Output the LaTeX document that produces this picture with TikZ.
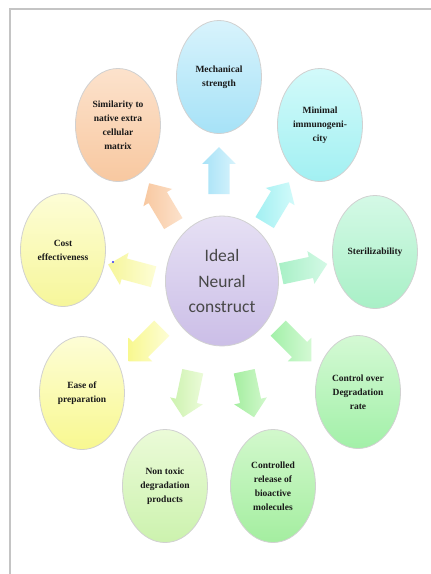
\documentclass[tikz,border=0pt]{standalone}
\usepackage{fontspec}
\setmainfont{Liberation Serif}
\newfontfamily\centerfont{Carlito}
\usetikzlibrary{shapes.geometric,shapes.arrows}
\definecolor{frameg}{HTML}{C4C4C4}
\definecolor{mechT}{HTML}{D8F3FC}\definecolor{mechB}{HTML}{A6E2F7}
\definecolor{minT}{HTML}{D2FAFA}\definecolor{minB}{HTML}{A2F0F2}
\definecolor{sterT}{HTML}{D4F9E6}\definecolor{sterB}{HTML}{A8F0C6}
\definecolor{ctrlT}{HTML}{D4F9D4}\definecolor{ctrlB}{HTML}{A2F0A8}
\definecolor{relT}{HTML}{D2F8CC}\definecolor{relB}{HTML}{A4EEA0}
\definecolor{toxT}{HTML}{EBFBD8}\definecolor{toxB}{HTML}{CCF2AE}
\definecolor{easeT}{HTML}{FDFDD6}\definecolor{easeB}{HTML}{F8F890}
\definecolor{costT}{HTML}{FDFDD6}\definecolor{costB}{HTML}{F6F69A}
\definecolor{simT}{HTML}{FCE2CC}\definecolor{simB}{HTML}{F8C8A0}
\definecolor{cenT}{HTML}{E6E0F4}\definecolor{cenB}{HTML}{CBBEE7}
\tikzset{
  bubble/.style={ellipse, minimum width=85pt, minimum height=113pt, inner sep=0pt,
    draw=black!18, line width=0.8pt, align=center,
    font=\fontsize{9.5}{14}\selectfont\bfseries, text=black!90},
  blockarrow/.style={single arrow, minimum height=47pt, minimum width=33pt,
    text height=10.5pt, text depth=10.5pt, text width=0pt,
    single arrow head extend=6pt, inner sep=0pt, draw=none},
}
\begin{document}
\begin{tikzpicture}[x=1pt,y=-1pt]
\useasboundingbox (0,0) rectangle (431,574);
\fill[white] (0,0) rectangle (431,574);
\draw[frameg, line width=1.3pt] (10,574) -- (10,9) -- (431,9);

% centre
\node[ellipse, minimum width=113pt, minimum height=130pt, inner sep=0pt,
  draw=black!18, line width=0.8pt, top color=cenT, bottom color=cenB,
  align=center, font=\centerfont\fontsize{17.5}{25.5}\selectfont, text=black!72]
  (c) at (222,281) {Ideal\\Neural\\construct};

% outer bubbles
\node[bubble, top color=mechT, bottom color=mechB] (mech) at (219,77) {Mechanical\\strength};
\node[bubble, top color=minT, bottom color=minB] (mini) at (320,125) {Minimal\\immunogeni-\\city};
\node[bubble, top color=sterT, bottom color=sterB] (ster) at (375,252) {Sterilizability};
\node[bubble, top color=ctrlT, bottom color=ctrlB] (ctrl) at (358,392) {Control over\\Degradation\\rate};
\node[bubble, top color=relT, bottom color=relB] (rel) at (273,486) {Controlled\\release of\\bioactive\\molecules};
\node[bubble, top color=toxT, bottom color=toxB] (tox) at (165,486) {Non toxic\\degradation\\products};
\node[bubble, top color=easeT, bottom color=easeB] (ease) at (82,393) {Ease of\\preparation};
\node[bubble, top color=costT, bottom color=costB] (cost) at (63,250) {Cost\\effectiveness};
\node[bubble, top color=simT, bottom color=simB] (sim) at (118,125) {Similarity to\\native extra\\cellular\\matrix};

% block arrows
\node[blockarrow, rotate=90,  left color=mechB, right color=mechT] (a1) at (219,176) {};
\node[blockarrow, rotate=59,  left color=minB, right color=minT] (a2) at (274,207) {};
\node[blockarrow, rotate=12,  left color=sterB, right color=sterT] (a3) at (299,270) {};
\node[blockarrow, rotate=-45, left color=ctrlB, right color=ctrlT] (a4) at (291,341) {};
\node[blockarrow, rotate=-78, left color=relB, right color=relT] (a5) at (248,389) {};
\node[blockarrow, rotate=-102,left color=toxB, right color=toxT] (a6) at (189,389) {};
\node[blockarrow, rotate=-135,left color=easeB, right color=easeT] (a7) at (149,341) {};
\node[blockarrow, rotate=165, left color=costB, right color=costT] (a8) at (136,272) {};
\node[blockarrow, rotate=121, left color=simB, right color=simT] (a9) at (164,208) {};

% stray dot
\fill[blue!80] (113,262) circle (1.1pt);
\end{tikzpicture}
\end{document}
